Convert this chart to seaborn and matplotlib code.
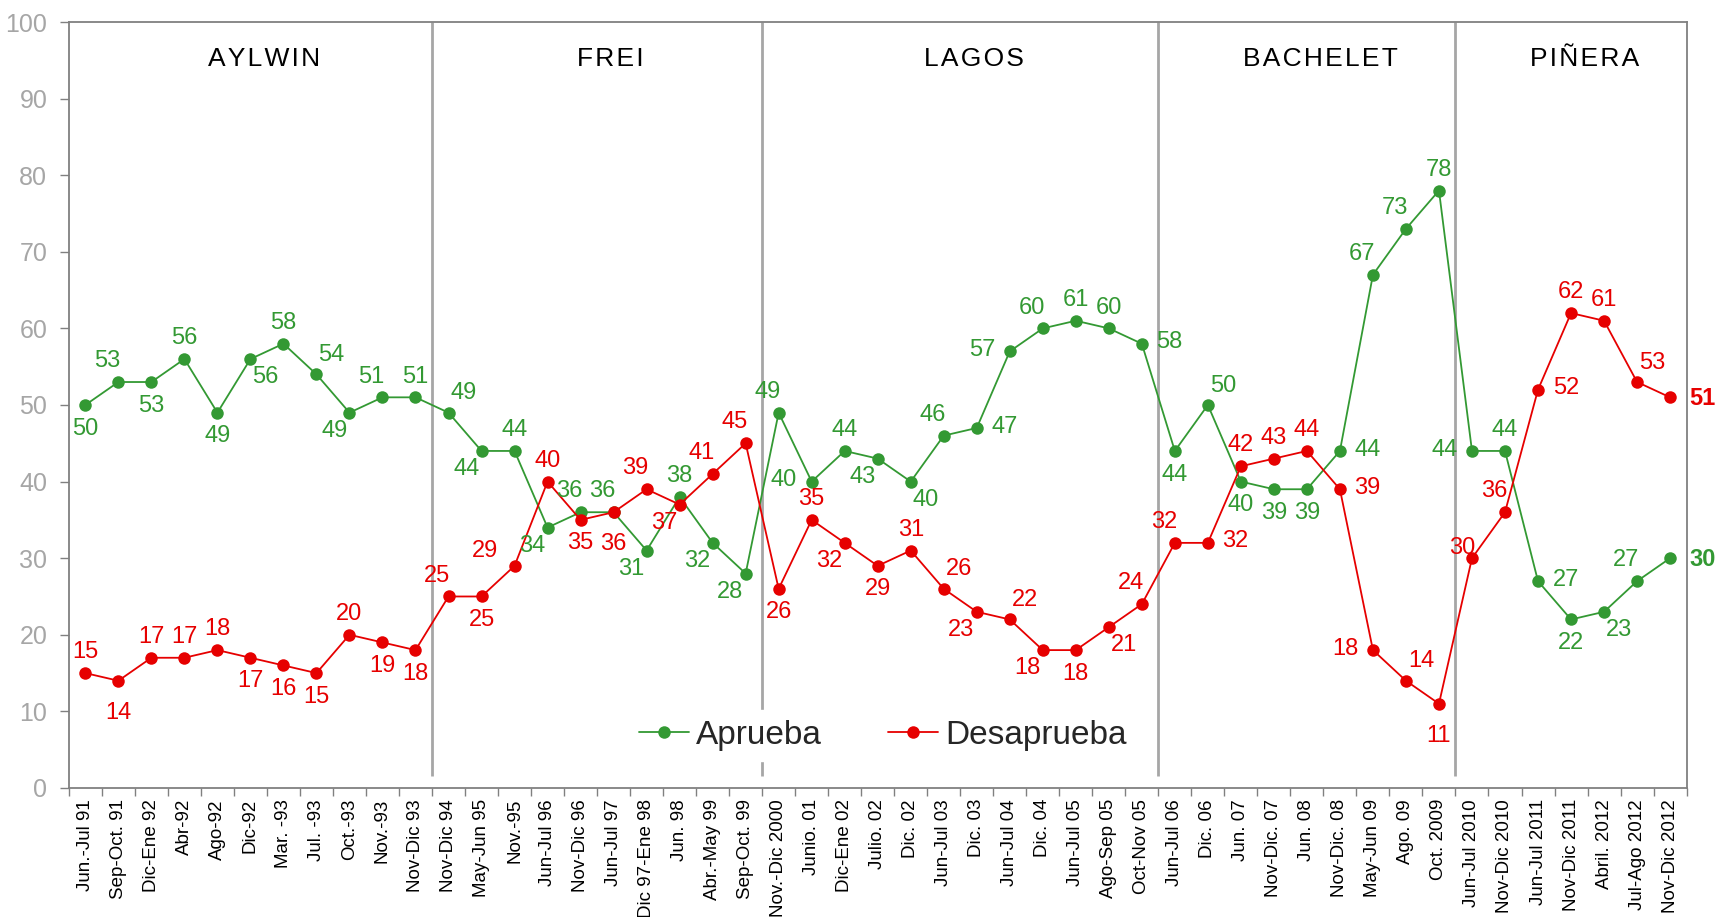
import numpy as np
import pandas as pd
import matplotlib
matplotlib.use("Agg")
import matplotlib.pyplot as plt
import seaborn as sns

# Encuestas de aprobacion presidencial (Chile, 1991-2012)
periodos = [
    "Jun.-Jul 91", "Sep-Oct. 91", "Dic-Ene 92", "Abr-92", "Ago-92", "Dic-92",
    "Mar. -93", "Jul. -93", "Oct.-93", "Nov.-93", "Nov-Dic 93",
    "Nov-Dic 94", "May-Jun 95", "Nov.-95", "Jun-Jul 96", "Nov-Dic 96",
    "Jun-Jul 97", "Dic 97-Ene 98", "Jun. 98", "Abr.-May 99", "Sep-Oct. 99",
    "Nov.-Dic 2000", "Junio. 01", "Dic-Ene 02", "Julio. 02", "Dic. 02",
    "Jun-Jul 03", "Dic. 03", "Jun-Jul 04", "Dic. 04", "Jun-Jul 05",
    "Ago-Sep 05", "Oct-Nov 05",
    "Jun-Jul 06", "Dic. 06", "Jun. 07", "Nov-Dic. 07", "Jun. 08",
    "Nov-Dic. 08", "May-Jun 09", "Ago. 09", "Oct. 2009",
    "Jun-Jul 2010", "Nov-Dic 2010", "Jun-Jul 2011", "Nov-Dic 2011",
    "Abril. 2012", "Jul-Ago 2012", "Nov-Dic 2012",
]

aprueba = [50, 53, 53, 56, 49, 56, 58, 54, 49, 51, 51,
           49, 44, 44, 34, 36, 36, 31, 38, 32, 28,
           49, 40, 44, 43, 40, 46, 47, 57, 60, 61, 60, 58,
           44, 50, 40, 39, 39, 44, 67, 73, 78,
           44, 44, 27, 22, 23, 27, 30]

desaprueba = [15, 14, 17, 17, 18, 17, 16, 15, 20, 19, 18,
              25, 25, 29, 40, 35, 36, 39, 37, 41, 45,
              26, 35, 32, 29, 31, 26, 23, 22, 18, 18, 21, 24,
              32, 32, 42, 43, 44, 39, 18, 14, 11,
              30, 36, 52, 62, 61, 53, 51]

presidentes = ["AYLWIN", "FREI", "LAGOS", "BACHELET", "PIÑERA"]
inicio_gobierno = [0, 11, 21, 33, 42]   # primer periodo de cada gobierno

# donde va cada etiqueta respecto al punto
pos_aprueba = ['b', 'al', 'b', 'a', 'b', 'br', 'a', 'ar', 'bl', 'al', 'a',
               'ar', 'bl', 'a', 'bl', 'al', 'al', 'bl', 'a', 'bl', 'bl',
               'al', 'l', 'a', 'bl', 'br', 'al', 'r', 'l', 'al', 'a', 'a', 'r',
               'b', 'ar', 'b', 'b', 'b', 'r', 'al', 'al', 'a',
               'l', 'a', 'r', 'b', 'br', 'al', 'R']
pos_desaprueba = ['a', 'B', 'a', 'a', 'a', 'b', 'b', 'b', 'a', 'b', 'b',
                  'al', 'b', 'L', 'a', 'b', 'B', 'al', 'bl', 'al', 'al',
                  'b', 'a', 'bl', 'b', 'a', 'ar', 'bl', 'ar', 'bl', 'b', 'br', 'al',
                  'al', 'r', 'a', 'a', 'a', 'r', 'l', 'ar', 'B',
                  'ml', 'al', 'r', 'a', 'a', 'ar', 'R']

OFFSETS = {
    'a': (0, 15), 'b': (0, -17), 'B': (0, -23), 'al': (-8, 15),
    'ar': (11, 14), 'bl': (-11, -13), 'br': (11, -13), 'l': (-20, 1),
    'L': (-21, 11), 'ml': (-7, 7), 'r': (20, 1),
}

VERDE = '#339933'
ROJO = '#E60000'
GRIS = '#A6A6A6'

sns.set_theme(style="white")
plt.rcParams['font.family'] = ['Liberation Sans', 'DejaVu Sans']

n = len(periodos)
idx = np.arange(n)
df = pd.DataFrame({
    'idx': np.concatenate([idx, idx]),
    'valor': aprueba + desaprueba,
    'serie': ['Aprueba'] * n + ['Desaprueba'] * n,
})

fig, ax = plt.subplots(figsize=(17.21, 9.17), dpi=100)
fig.subplots_adjust(left=0.040, right=0.980, bottom=0.1407, top=0.976)

sns.lineplot(data=df, x='idx', y='valor', hue='serie',
             palette={'Aprueba': VERDE, 'Desaprueba': ROJO},
             marker='o', markersize=9, markeredgewidth=0,
             linewidth=1.3, ax=ax, zorder=3)

# separadores de gobierno
limites = [i - 0.5 for i in inicio_gobierno[1:]]
ax.vlines(limites, 1.5, 100, colors=GRIS, linewidth=2, zorder=1)

# nombres de presidentes (con algo de espaciado entre letras)
bordes = [-0.5] + limites + [n - 0.5]
for k, nombre in enumerate(presidentes):
    xm = (bordes[k] + bordes[k + 1]) / 2 + 0.4
    ax.text(xm, 95.2, '\u200a'.join(nombre), ha='center', va='center',
            fontsize=19, color='black')

# etiquetas de valores
for serie, pos, color in [(aprueba, pos_aprueba, VERDE),
                          (desaprueba, pos_desaprueba, ROJO)]:
    for i, (v, p) in enumerate(zip(serie, pos)):
        if p == 'R':
            ax.annotate(str(v), (i, v), xytext=(14, -1),
                        textcoords='offset points', ha='left', va='center',
                        fontsize=17, fontweight='bold', color=color,
                        annotation_clip=False)
        else:
            dx, dy = OFFSETS[p]
            ax.annotate(str(v), (i, v), xytext=(dx, dy),
                        textcoords='offset points', ha='center', va='center',
                        fontsize=17, color=color, annotation_clip=False)

ax.set_xlim(-0.5, n - 0.5)
ax.set_ylim(0, 100)
ax.set_yticks(range(0, 101, 10))
ax.set_xticks(idx)
ax.set_xticklabels(periodos, rotation=90, fontsize=13.5)
ax.set_xticks(np.arange(-0.5, n), minor=True)
ax.tick_params(axis='x', which='major', length=0, pad=8, colors='black')
ax.tick_params(axis='x', which='minor', length=6, width=1, color='#808080',
               bottom=True)
ax.tick_params(axis='y', length=6.5, width=1, color='#808080', pad=9,
               labelsize=18, labelcolor=GRIS, left=True)
ax.set_xlabel('')
ax.set_ylabel('')
for s in ax.spines.values():
    s.set_color('#808080')
    s.set_linewidth(1.3)

handles, labels = ax.get_legend_handles_labels()
leg = ax.legend(handles, labels, loc='center', bbox_to_anchor=(0.503, 0.069),
                ncol=2, fontsize=24, frameon=True, facecolor='white',
                edgecolor='white', framealpha=1, handlelength=1.5,
                handletextpad=0.2, columnspacing=2.0, borderpad=0.3)
leg.set_zorder(5)

fig.savefig('out.png', dpi=100)
